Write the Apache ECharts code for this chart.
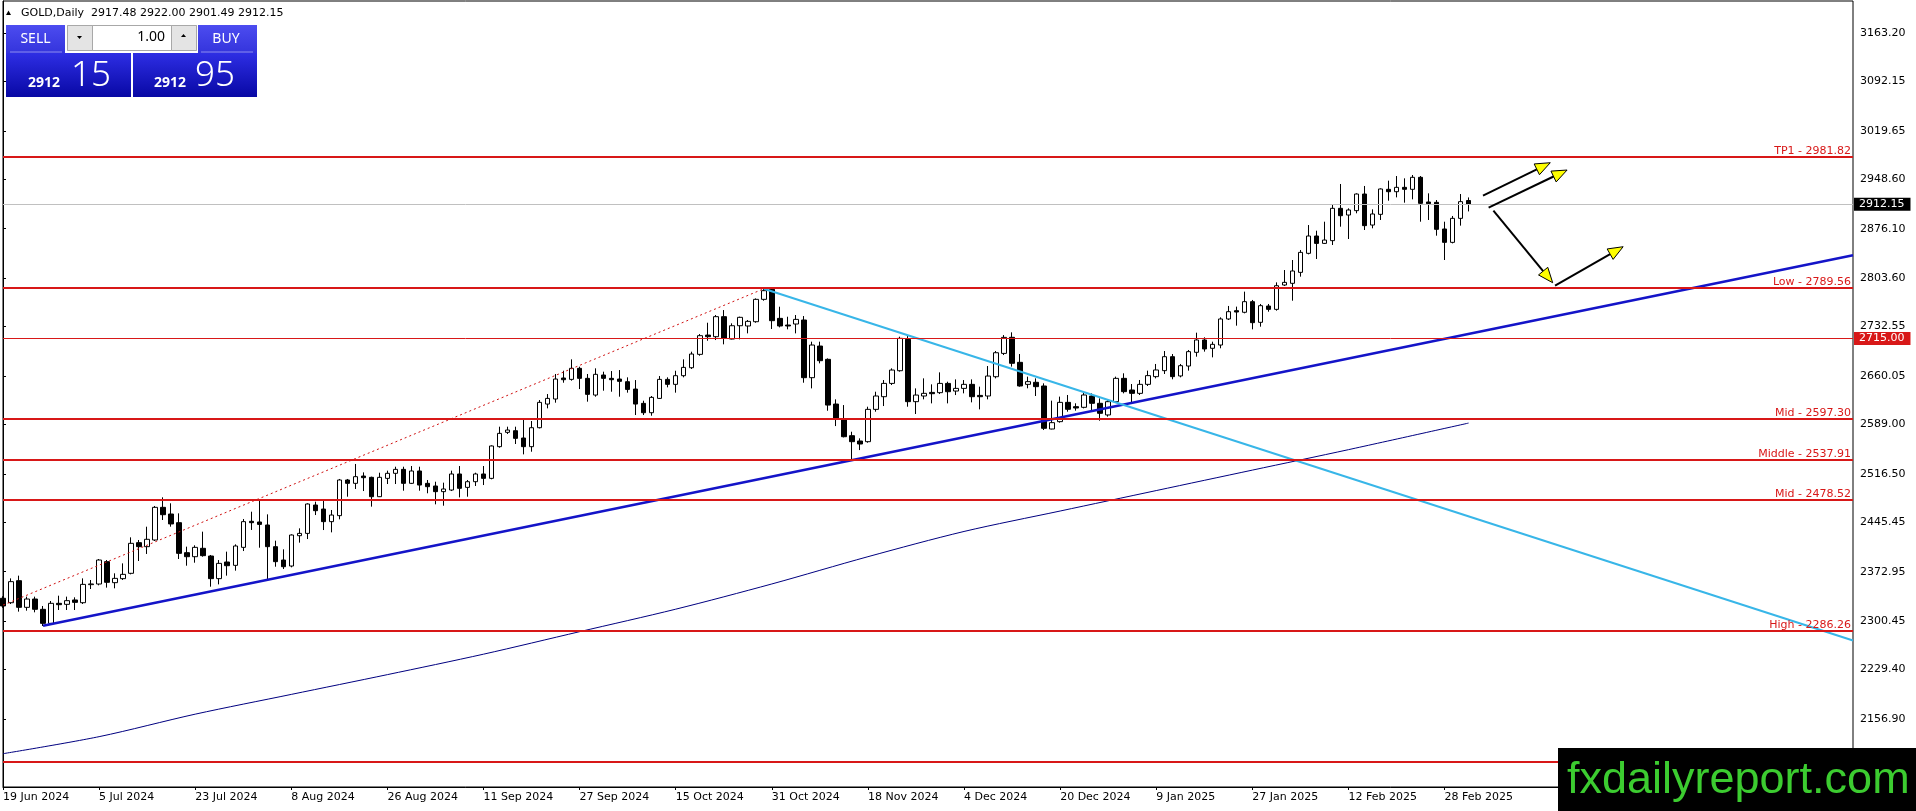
<!DOCTYPE html>
<html lang="en">
<head>
<meta charset="UTF-8">
<title>GOLD, Daily</title>
<script src="https://cdn.jsdelivr.net/npm/echarts@6.0.0/dist/echarts.min.js"></script>
<style>
    body { margin: 0; padding: 0; background: #fff; }
    #chart { width: 1916px; height: 811px; }
</style>
</head>
<body>
<div id="chart"></div>
<script>
// daily bars, 19 Jun 2024 .. 5 Mar 2025
const opens = [
    2334.0, 2327.5, 2359.8, 2320.7, 2332.9, 2317.8, 2297.2, 2326.6, 2325.1, 2331.5,
    2327.5, 2354.0, 2354.9, 2387.7, 2356.9, 2362.8, 2370.6, 2415.6, 2409.7, 2419.5,
    2467.4, 2457.6, 2444.9, 2400.9, 2395.0, 2407.3, 2396.0, 2362.8, 2387.2, 2382.3,
    2408.7, 2446.9, 2445.9, 2441.5, 2409.7, 2390.1, 2381.3, 2425.8, 2429.2, 2470.8,
    2464.9, 2446.4, 2455.2, 2507.5, 2502.6, 2513.3, 2511.4, 2483.0, 2509.9, 2517.3,
    2523.1, 2502.6, 2520.7, 2502.6, 2498.7, 2490.4, 2492.8, 2516.3, 2496.7, 2505.0,
    2516.3, 2509.9, 2556.4, 2577.4, 2579.8, 2569.1, 2556.4, 2584.2, 2618.9, 2626.3,
    2657.1, 2655.1, 2671.3, 2656.6, 2632.1, 2661.5, 2656.6, 2655.6, 2651.7, 2640.9,
    2619.9, 2606.2, 2627.2, 2655.1, 2647.8, 2660.5, 2672.2, 2691.8, 2720.1, 2717.7,
    2747.1, 2714.3, 2733.8, 2733.4, 2739.7, 2772.5, 2787.1, 2744.6, 2734.8, 2736.3,
    2742.2, 2657.6, 2704.0, 2684.5, 2618.9, 2595.5, 2572.5, 2564.7, 2563.7, 2611.1,
    2629.7, 2649.2, 2667.8, 2713.8, 2622.4, 2630.7, 2636.0, 2635.6, 2649.2, 2638.0,
    2641.9, 2647.8, 2631.6, 2630.7, 2659.0, 2693.2, 2716.8, 2680.1, 2647.8, 2650.8,
    2645.4, 2582.3, 2593.1, 2621.4, 2615.1, 2614.1, 2630.7, 2620.0, 2602.9, 2622.4,
    2656.6, 2639.5, 2634.6, 2647.8, 2659.1, 2667.9, 2688.4, 2660.1, 2674.7, 2694.8,
    2712.9, 2700.7, 2705.5, 2743.7, 2755.9, 2753.5, 2769.1, 2738.8, 2762.7, 2757.8,
    2793.5, 2796.0, 2812.1, 2840.0, 2865.4, 2854.6, 2858.6, 2906.0, 2896.2, 2902.6,
    2927.0, 2881.5, 2897.2, 2933.9, 2930.4, 2936.8, 2933.9, 2951.5, 2915.3, 2914.8,
    2875.7, 2856.1, 2891.3, 2917.48
];
const highs = [
    2337.0, 2363.2, 2367.2, 2336.4, 2336.4, 2322.7, 2330.0, 2337.8, 2336.4, 2335.4,
    2363.2, 2360.8, 2391.6, 2390.1, 2370.6, 2385.2, 2423.4, 2419.5, 2439.0, 2469.4,
    2482.1, 2473.3, 2458.6, 2409.7, 2411.7, 2431.7, 2397.5, 2390.1, 2402.4, 2413.1,
    2450.3, 2461.0, 2477.2, 2457.1, 2418.5, 2405.8, 2427.8, 2436.6, 2473.3, 2475.7,
    2478.1, 2463.5, 2509.0, 2509.0, 2531.0, 2518.7, 2512.4, 2518.2, 2521.2, 2527.0,
    2527.0, 2528.0, 2527.0, 2507.5, 2505.0, 2503.6, 2521.2, 2528.0, 2507.5, 2518.2,
    2528.0, 2558.3, 2585.7, 2585.7, 2585.7, 2595.5, 2594.0, 2624.8, 2633.6, 2663.0,
    2667.8, 2684.5, 2673.7, 2663.0, 2671.3, 2666.4, 2667.3, 2668.8, 2658.1, 2654.1,
    2623.8, 2630.7, 2660.0, 2658.1, 2667.8, 2684.5, 2695.7, 2721.6, 2738.2, 2749.5,
    2756.8, 2737.3, 2747.1, 2742.2, 2773.9, 2790.0, 2788.6, 2761.7, 2747.0, 2749.5,
    2748.0, 2710.4, 2710.4, 2685.9, 2625.8, 2617.4, 2578.3, 2568.6, 2615.0, 2637.0,
    2654.1, 2671.3, 2717.7, 2718.7, 2641.9, 2656.6, 2647.8, 2665.4, 2651.7, 2655.1,
    2654.1, 2655.1, 2644.4, 2674.7, 2696.7, 2720.1, 2724.1, 2692.3, 2659.1, 2656.6,
    2649.3, 2623.9, 2629.8, 2632.2, 2620.0, 2635.6, 2634.6, 2627.3, 2624.9, 2659.1,
    2664.0, 2648.3, 2654.2, 2667.9, 2677.7, 2696.7, 2692.3, 2677.7, 2698.2, 2723.6,
    2716.8, 2710.4, 2746.1, 2762.8, 2761.8, 2783.8, 2771.6, 2765.7, 2765.7, 2797.4,
    2815.5, 2830.2, 2844.9, 2881.5, 2873.2, 2886.4, 2910.9, 2941.7, 2906.0, 2928.0,
    2938.8, 2904.5, 2935.3, 2946.6, 2953.4, 2950.0, 2954.9, 2953.4, 2928.0, 2918.2,
    2886.4, 2894.8, 2927.0, 2922.00
];
const lows = [
    2320.0, 2325.6, 2314.4, 2315.8, 2313.4, 2293.3, 2296.3, 2316.8, 2316.8, 2316.8,
    2325.6, 2347.6, 2353.0, 2349.6, 2348.6, 2360.8, 2369.1, 2388.7, 2399.0, 2418.0,
    2448.8, 2439.0, 2391.6, 2381.8, 2386.2, 2395.0, 2351.0, 2354.4, 2367.2, 2374.5,
    2403.3, 2434.2, 2408.2, 2360.8, 2380.3, 2376.9, 2379.4, 2415.6, 2420.9, 2456.1,
    2434.1, 2430.7, 2449.8, 2483.0, 2494.3, 2491.3, 2468.4, 2482.5, 2501.6, 2501.6,
    2491.8, 2501.6, 2491.8, 2488.0, 2471.8, 2469.8, 2491.3, 2482.0, 2483.0, 2498.7,
    2500.1, 2508.5, 2554.9, 2575.0, 2560.3, 2545.1, 2549.0, 2583.2, 2612.6, 2620.9,
    2650.2, 2653.2, 2640.9, 2622.4, 2629.7, 2638.5, 2637.0, 2629.7, 2635.6, 2602.8,
    2602.8, 2601.8, 2626.3, 2643.4, 2635.6, 2658.1, 2670.3, 2689.8, 2711.8, 2712.8,
    2706.5, 2713.8, 2713.8, 2722.6, 2738.2, 2770.5, 2729.0, 2731.4, 2728.5, 2722.6,
    2650.2, 2641.9, 2678.6, 2609.1, 2586.6, 2570.0, 2536.8, 2551.4, 2562.2, 2607.7,
    2616.0, 2646.8, 2666.4, 2615.0, 2604.3, 2625.8, 2619.9, 2633.6, 2619.9, 2632.1,
    2634.6, 2621.4, 2611.1, 2625.8, 2656.6, 2690.8, 2673.8, 2644.4, 2642.0, 2630.7,
    2580.8, 2581.8, 2591.6, 2607.7, 2609.2, 2612.6, 2610.2, 2594.5, 2600.4, 2621.0,
    2634.6, 2621.0, 2632.2, 2645.4, 2656.6, 2663.0, 2655.2, 2658.1, 2667.9, 2688.4,
    2695.8, 2687.4, 2700.7, 2742.2, 2733.9, 2752.0, 2728.5, 2732.4, 2754.4, 2755.9,
    2792.1, 2770.5, 2805.8, 2838.5, 2831.7, 2853.7, 2852.2, 2879.1, 2861.0, 2898.7,
    2874.2, 2876.7, 2888.9, 2917.2, 2922.1, 2914.3, 2919.2, 2886.4, 2888.9, 2865.9,
    2830.2, 2854.6, 2880.6, 2901.49
];
const closes = [
    2322.7, 2358.4, 2320.7, 2332.9, 2317.8, 2297.2, 2326.6, 2324.6, 2330.5, 2328.0,
    2354.4, 2355.0, 2390.1, 2357.4, 2363.2, 2369.1, 2414.6, 2409.7, 2420.5, 2467.4,
    2456.6, 2443.0, 2399.9, 2395.0, 2408.7, 2396.5, 2362.8, 2385.2, 2381.8, 2410.7,
    2446.4, 2444.9, 2442.4, 2409.7, 2387.7, 2380.3, 2426.8, 2429.2, 2472.3, 2462.5,
    2446.4, 2456.1, 2507.5, 2502.6, 2512.4, 2510.9, 2483.0, 2511.4, 2517.3, 2523.1,
    2502.6, 2520.7, 2500.1, 2497.7, 2490.4, 2494.3, 2516.3, 2495.3, 2505.0, 2516.3,
    2509.9, 2557.4, 2575.9, 2580.8, 2568.6, 2556.4, 2584.2, 2621.4, 2627.2, 2655.6,
    2654.6, 2671.3, 2656.6, 2633.1, 2662.5, 2656.6, 2654.6, 2652.2, 2640.4, 2618.9,
    2606.2, 2628.7, 2655.1, 2647.8, 2660.5, 2672.7, 2692.3, 2719.2, 2717.7, 2747.1,
    2715.3, 2733.8, 2746.1, 2740.2, 2772.5, 2785.2, 2741.2, 2733.4, 2733.4, 2743.1,
    2657.6, 2705.5, 2682.5, 2617.4, 2597.9, 2571.0, 2563.7, 2560.3, 2611.1, 2630.7,
    2649.2, 2668.8, 2715.3, 2622.4, 2632.1, 2634.6, 2634.1, 2649.2, 2637.0, 2641.9,
    2647.8, 2629.7, 2629.7, 2660.0, 2694.2, 2716.7, 2678.7, 2645.4, 2651.8, 2644.4,
    2583.3, 2591.6, 2621.4, 2611.2, 2613.1, 2632.2, 2620.0, 2605.3, 2622.4, 2656.6,
    2637.1, 2634.6, 2647.8, 2660.6, 2668.9, 2688.4, 2659.1, 2675.2, 2695.8, 2712.9,
    2699.7, 2706.5, 2743.7, 2754.4, 2753.9, 2769.1, 2738.3, 2763.2, 2757.8, 2792.5,
    2797.4, 2814.1, 2841.4, 2865.4, 2854.6, 2859.5, 2906.0, 2895.2, 2903.6, 2927.0,
    2880.6, 2897.7, 2934.4, 2930.4, 2936.8, 2933.9, 2951.5, 2913.3, 2912.8, 2875.2,
    2856.1, 2891.3, 2915.8, 2912.15
];

// x axis: one slot per trading day, chart runs on past the last bar
const slotCount = 232;
const labelStep = 12;
const xLabels = ['19 Jun 2024', '5 Jul 2024', '23 Jul 2024', '8 Aug 2024', '26 Aug 2024',
    '11 Sep 2024', '27 Sep 2024', '15 Oct 2024', '31 Oct 2024', '18 Nov 2024', '4 Dec 2024',
    '20 Dec 2024', '9 Jan 2025', '27 Jan 2025', '12 Feb 2025', '28 Feb 2025'];

// price scale
const priceMin = 2057.16;
const priceMax = 3210.14;
const priceTicks = [2156.90, 2229.40, 2300.45, 2372.95, 2445.45, 2516.50, 2589.00, 2660.05,
    2732.55, 2803.60, 2876.10, 2948.60, 3019.65, 3092.15, 3163.20];

// horizontal levels
const levelNames = ['TP1', 'Low', 'Mid', 'Middle', 'Mid', 'High'];
const levelValues = [2981.82, 2789.56, 2597.30, 2537.91, 2478.52, 2286.26];
const pivotLevel = 2715.00;
const bottomLevel = 2093.8;
const bidPrice = 2912.15;

// moving average, read at a few bars
const maBars = [0, 12, 24, 36, 48, 60, 72, 84, 96, 108, 120, 132, 144, 156, 168, 183];
const maValues = [2106, 2131, 2164, 2193, 2222, 2252, 2285, 2318, 2355, 2395, 2432, 2462, 2492, 2522, 2552, 2591];

// trend lines [bar, price]
const supportLine = [[5, 2293.8], [231, 2837.3]];
const resistanceLine = [[95, 2788.0], [231, 2272.0]];
const channelLine = [[0, 2324.0], [95, 2788.0]];

// arrows [fromBar, fromPrice, toBar, toPrice]
const arrows = [
    [184.8, 2924.5, 193.2, 2972.9],
    [185.5, 2906.9, 195.3, 2962.2],
    [186.1, 2902.5, 193.5, 2796.9],
    [193.8, 2792.5, 202.3, 2849.7]
];

const FONT = '"DejaVu Sans", Tahoma, sans-serif';
const RED = '#d81818';

const candles = opens.map((o, i) => [o, closes[i], lows[i], highs[i]]);
const slots = Array.from({ length: slotCount }, (_, i) => i);
const showSlot = i => i % labelStep === 0 && i / labelStep < xLabels.length;

const levelLines = levelValues.map((v, i) => ({
    yAxis: v,
    lineStyle: { color: RED, width: 2, type: 'solid' },
    label: {
        show: true,
        position: 'insideEndTop',
        distance: [2, 0],
        formatter: levelNames[i] + ' - ' + v.toFixed(2),
        color: RED,
        fontFamily: FONT,
        fontSize: 11
    }
}));
levelLines.push({
    yAxis: pivotLevel,
    lineStyle: { color: RED, width: 1, type: 'solid' },
    label: {
        show: true, position: 'end', distance: 1,
        formatter: pivotLevel.toFixed(2),
        color: '#fff', backgroundColor: RED, padding: [1, 6, 1, 5],
        fontFamily: FONT, fontSize: 11
    }
});
levelLines.push({
    yAxis: bottomLevel,
    lineStyle: { color: RED, width: 2, type: 'solid' },
    label: { show: false }
});
levelLines.push({
    yAxis: bidPrice,
    lineStyle: { color: '#c0c0c0', width: 1, type: 'solid' },
    label: {
        show: true, position: 'end', distance: 1,
        formatter: bidPrice.toFixed(2),
        color: '#fff', backgroundColor: '#000', padding: [1, 6, 1, 5],
        fontFamily: FONT, fontSize: 11
    }
});

function blueGrad(top, bottom) {
    return new echarts.graphic.LinearGradient(0, 0, 0, 1, [
        { offset: 0, color: top }, { offset: 1, color: bottom }
    ]);
}

const panel = [
    // header
    { type: 'polygon', shape: { points: [[6, 15], [8.5, 10.5], [11, 15]] }, style: { fill: '#000' } },
    { type: 'text', x: 21, y: 13, style: { text: 'GOLD,Daily  2917.48 2922.00 2901.49 2912.15', font: '11px ' + FONT, fill: '#000', verticalAlign: 'middle' } },
    // sell / buy buttons
    { type: 'rect', shape: { x: 6, y: 25, width: 59, height: 28 }, style: { fill: blueGrad('#4c4cf0', '#3434dc') } },
    { type: 'rect', shape: { x: 198, y: 25, width: 59, height: 28 }, style: { fill: blueGrad('#4c4cf0', '#3434dc') } },
    { type: 'line', shape: { x1: 10, y1: 52, x2: 62, y2: 52 }, style: { stroke: '#8a8af2', lineWidth: 1 } },
    { type: 'line', shape: { x1: 201, y1: 52, x2: 253, y2: 52 }, style: { stroke: '#8a8af2', lineWidth: 1 } },
    { type: 'text', x: 35.5, y: 39, style: { text: 'SELL', font: '14px "Noto Sans"', fill: '#fff', align: 'center', verticalAlign: 'middle' } },
    { type: 'text', x: 226, y: 39, style: { text: 'BUY', font: '14px "Noto Sans"', fill: '#fff', align: 'center', verticalAlign: 'middle' } },
    // lot box
    { type: 'rect', shape: { x: 67.5, y: 25.5, width: 129, height: 25 }, style: { fill: '#fff', stroke: '#a8a8a8', lineWidth: 1 } },
    { type: 'rect', shape: { x: 67.5, y: 25.5, width: 25, height: 25 }, style: { fill: '#e4e4e4', stroke: '#a8a8a8', lineWidth: 1 } },
    { type: 'rect', shape: { x: 171.5, y: 25.5, width: 25, height: 25 }, style: { fill: '#e4e4e4', stroke: '#a8a8a8', lineWidth: 1 } },
    { type: 'polygon', shape: { points: [[77, 36], [82, 36], [79.5, 39]] }, style: { fill: '#000' } },
    { type: 'polygon', shape: { points: [[181, 37], [186, 37], [183.5, 34]] }, style: { fill: '#000' } },
    { type: 'text', x: 165, y: 37.5, style: { text: '1.00', font: '14px "Noto Sans"', fill: '#000', align: 'right', verticalAlign: 'middle' } },
    // price boxes
    { type: 'rect', shape: { x: 6, y: 53, width: 125, height: 44 }, style: { fill: blueGrad('#2e2ee4', '#0808a4') } },
    { type: 'rect', shape: { x: 133, y: 53, width: 124, height: 44 }, style: { fill: blueGrad('#2e2ee4', '#0808a4') } },
    { type: 'text', x: 28, y: 83, style: { text: '2912', font: 'bold 14px "Noto Sans"', fill: '#fff', verticalAlign: 'middle' } },
    { type: 'text', x: 71, y: 76, style: { text: '15', font: '300 35px "Noto Sans"', fill: '#fff', verticalAlign: 'middle' } },
    { type: 'text', x: 154, y: 83, style: { text: '2912', font: 'bold 14px "Noto Sans"', fill: '#fff', verticalAlign: 'middle' } },
    { type: 'text', x: 195, y: 76, style: { text: '95', font: '300 35px "Noto Sans"', fill: '#fff', verticalAlign: 'middle' } },
    // watermark
    { type: 'rect', z: 100, shape: { x: 1558, y: 748, width: 358, height: 63 }, style: { fill: '#000' } },
    { type: 'text', z: 101, x: 1567, y: 781, style: { text: 'fxdailyreport.com', font: '45px "Liberation Sans", Arial, sans-serif', fill: '#3ccc30', verticalAlign: 'middle' } }
];

const chart = echarts.init(document.getElementById('chart'));

chart.setOption({
    animation: false,
    backgroundColor: '#fff',
    textStyle: { fontFamily: FONT },
    grid: {
        left: 3, right: 63, top: 1, bottom: 24,
        show: true, borderColor: '#000', borderWidth: 1, backgroundColor: 'transparent'
    },
    xAxis: [
        {
            type: 'category',
            data: slots,
            boundaryGap: false,
            axisLine: { lineStyle: { color: '#000' } },
            axisTick: { interval: showSlot, length: 3, lineStyle: { color: '#000' } },
            axisLabel: {
                interval: showSlot,
                formatter: (v, i) => xLabels[i / labelStep] || '',
                align: 'left',
                margin: 5,
                color: '#000',
                fontFamily: FONT,
                fontSize: 11
            },
            splitLine: { show: false }
        },
        { type: 'value', min: 0, max: slotCount - 1, show: false }
    ],
    yAxis: {
        type: 'value',
        position: 'right',
        min: priceMin,
        max: priceMax,
        scale: true,
        axisLine: { show: true, lineStyle: { color: '#000' } },
        axisTick: { show: true, customValues: priceTicks, length: 3, lineStyle: { color: '#000' } },
        axisLabel: {
            customValues: priceTicks,
            formatter: v => v.toFixed(2),
            margin: 7,
            color: '#000',
            fontFamily: FONT,
            fontSize: 11
        },
        splitLine: { show: false }
    },
    graphic: panel,
    series: [
        {
            name: 'MA',
            type: 'line',
            xAxisIndex: 1,
            data: maBars.map((b, i) => [b, maValues[i]]),
            smooth: 0.3,
            symbol: 'none',
            lineStyle: { color: '#000080', width: 1 },
            z: 1
        },
        {
            name: 'GOLD',
            type: 'candlestick',
            data: candles,
            barWidth: 5,
            itemStyle: {
                color: '#fff', color0: '#000',
                borderColor: '#000', borderColor0: '#000', borderColorDoji: '#000',
                borderWidth: 1
            },
            markLine: {
                silent: true,
                symbol: ['none', 'none'],
                animation: false,
                data: levelLines
            },
            z: 2
        },
        {
            name: 'channel',
            type: 'line',
            xAxisIndex: 1,
            data: channelLine,
            symbol: 'none',
            lineStyle: { color: '#d01010', width: 1, type: [2, 3] },
            z: 3
        },
        {
            name: 'support',
            type: 'line',
            xAxisIndex: 1,
            data: supportLine,
            symbol: 'none',
            lineStyle: { color: '#1414c8', width: 2.5 },
            z: 4
        },
        {
            name: 'resistance',
            type: 'line',
            xAxisIndex: 1,
            data: resistanceLine,
            symbol: 'none',
            lineStyle: { color: '#38b6e8', width: 2 },
            z: 4
        },
        {
            name: 'arrows',
            type: 'custom',
            xAxisIndex: 1,
            data: arrows,
            encode: { x: [0, 2], y: [1, 3] },
            clip: false,
            z: 5,
            renderItem: function (params, api) {
                const p0 = api.coord([api.value(0), api.value(1)]);
                const p1 = api.coord([api.value(2), api.value(3)]);
                const dx = p1[0] - p0[0], dy = p1[1] - p0[1];
                const len = Math.sqrt(dx * dx + dy * dy);
                const ux = dx / len, uy = dy / len;
                const headLen = 15, headW = 6;
                const bx = p1[0] - ux * headLen, by = p1[1] - uy * headLen;
                return {
                    type: 'group',
                    children: [
                        { type: 'line', shape: { x1: p0[0], y1: p0[1], x2: bx, y2: by }, style: { stroke: '#000', lineWidth: 2 } },
                        {
                            type: 'polygon',
                            shape: { points: [[p1[0], p1[1]], [bx - uy * headW, by + ux * headW], [bx + uy * headW, by - ux * headW]] },
                            style: { fill: '#ffff00', stroke: '#000', lineWidth: 1 }
                        }
                    ]
                };
            }
        }
    ]
});
</script>
</body>
</html>
